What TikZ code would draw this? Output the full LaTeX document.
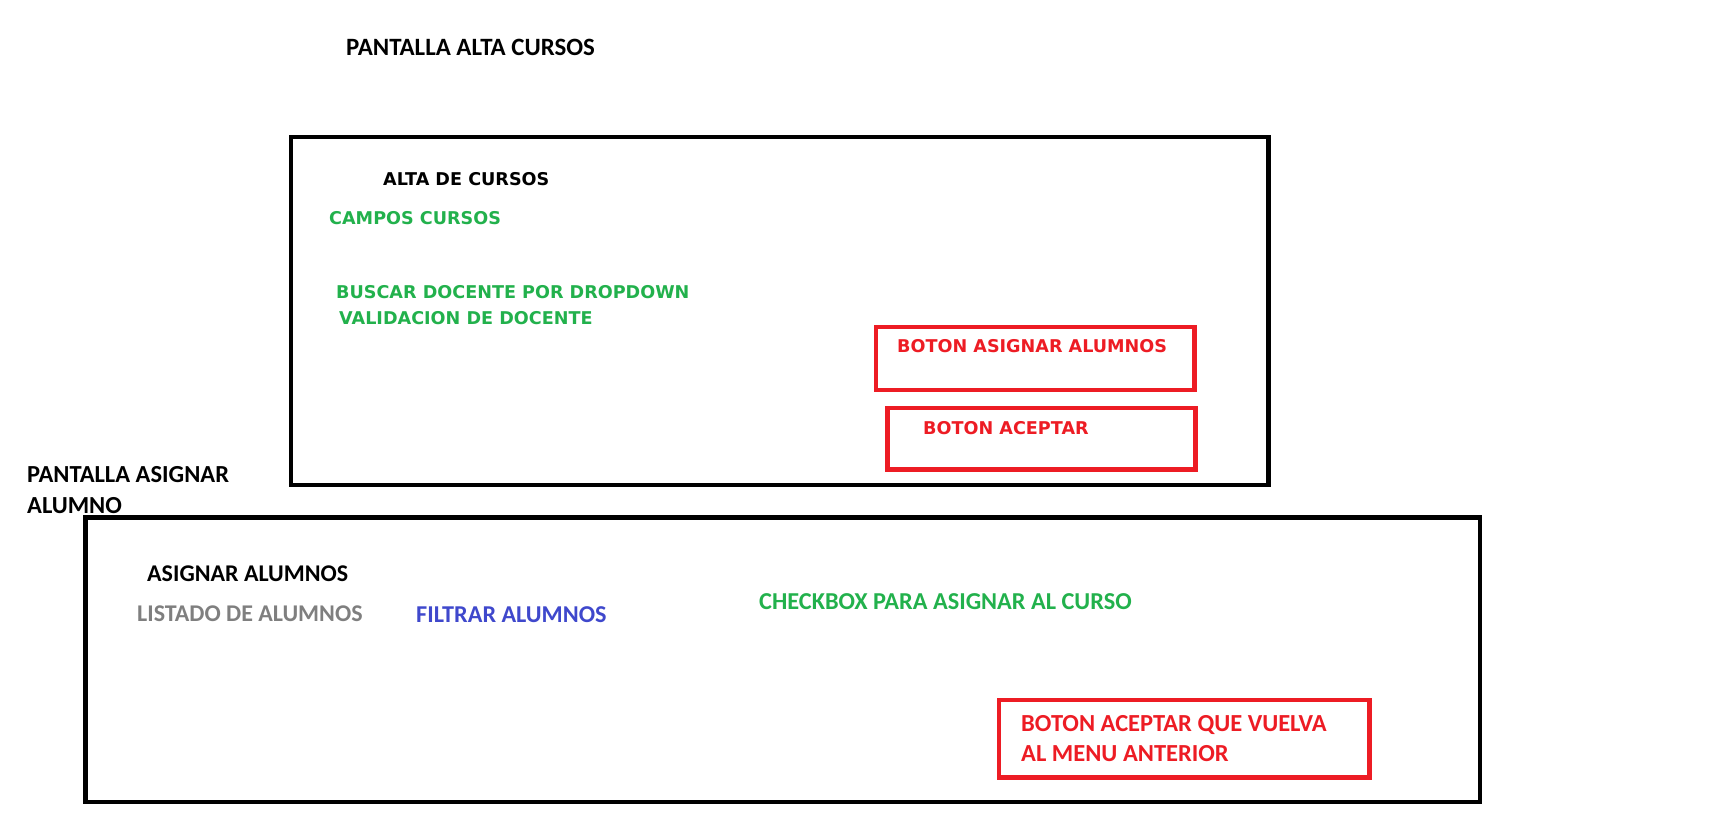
\documentclass[tikz,border=0pt]{standalone}
\usepackage{fontspec}
\setmainfont{Carlito}
\newfontfamily\anchafont{DejaVu Sans}
\definecolor{verde}{HTML}{22B14C}
\definecolor{rojo}{HTML}{ED1C24}
\definecolor{azul}{HTML}{3F48CC}
\definecolor{gris}{HTML}{7F7F7F}
\tikzset{
	pantalla/.style={draw=black, line width=4.5pt},
	boton/.style={draw=rojo, line width=4.5pt},
	titulo/.style={anchor=base west, inner sep=0pt, font=\fontsize{24.5}{29}\selectfont\bfseries},
	campo/.style={anchor=base west, inner sep=0pt, font=\anchafont\fontsize{17.6}{20}\selectfont\bfseries},
}
\begin{document}
\begin{tikzpicture}[x=1pt, y=-1pt]
	\useasboundingbox (0,0) rectangle (1709,828);
	% pantalla alta cursos
	\node[titulo, font=\fontsize{24.9}{29}\selectfont\bfseries] (tituloAlta) at (346,55) {PANTALLA ALTA CURSOS};
	\draw[pantalla] (291,137) rectangle (1268.5,485);
	\node[campo] (altaCursos)  at (383,185) {ALTA DE CURSOS};
	\node[campo, verde] (camposCursos) at (329,224) {CAMPOS CURSOS};
	\node[campo, verde] (buscarDocente) at (336,298) {BUSCAR DOCENTE POR DROPDOWN};
	\node[campo, verde] (validacion) at (339,324) {VALIDACION DE DOCENTE};
	\draw[boton] (876,327) rectangle (1194.5,390);
	\node[campo, rojo] (botonAsignar) at (897,352) {BOTON ASIGNAR ALUMNOS};
	\draw[boton] (887.5,408) rectangle (1195.5,469.5);
	\node[campo, rojo] (botonAceptar) at (923,434) {BOTON ACEPTAR};
	% pantalla asignar alumno
	\node[titulo, font=\fontsize{24.5}{31}\selectfont\bfseries, align=left] (tituloAsignar) at (27,513) {PANTALLA ASIGNAR\\ALUMNO};
	\draw[pantalla] (85.5,517.5) rectangle (1480,802);
	\node[titulo, font=\fontsize{24}{28}\selectfont\bfseries] (asignarAlumnos) at (147,581) {ASIGNAR ALUMNOS};
	\node[titulo, gris, font=\fontsize{24}{28}\selectfont\bfseries] (listado) at (137,621) {LISTADO DE ALUMNOS};
	\node[titulo, azul, font=\fontsize{24.2}{28}\selectfont\bfseries] (filtrar) at (416,622) {FILTRAR ALUMNOS};
	\node[titulo, verde, font=\fontsize{24.3}{28}\selectfont\bfseries] (checkbox) at (759,609) {CHECKBOX PARA ASIGNAR AL CURSO};
	\draw[boton] (999,700) rectangle (1369.5,777.5);
	\node[titulo, rojo, align=left, font=\fontsize{24.5}{29.5}\selectfont\bfseries] (botonVolver) at (1021,761) {BOTON ACEPTAR QUE VUELVA\\AL MENU ANTERIOR};
\end{tikzpicture}
\end{document}
